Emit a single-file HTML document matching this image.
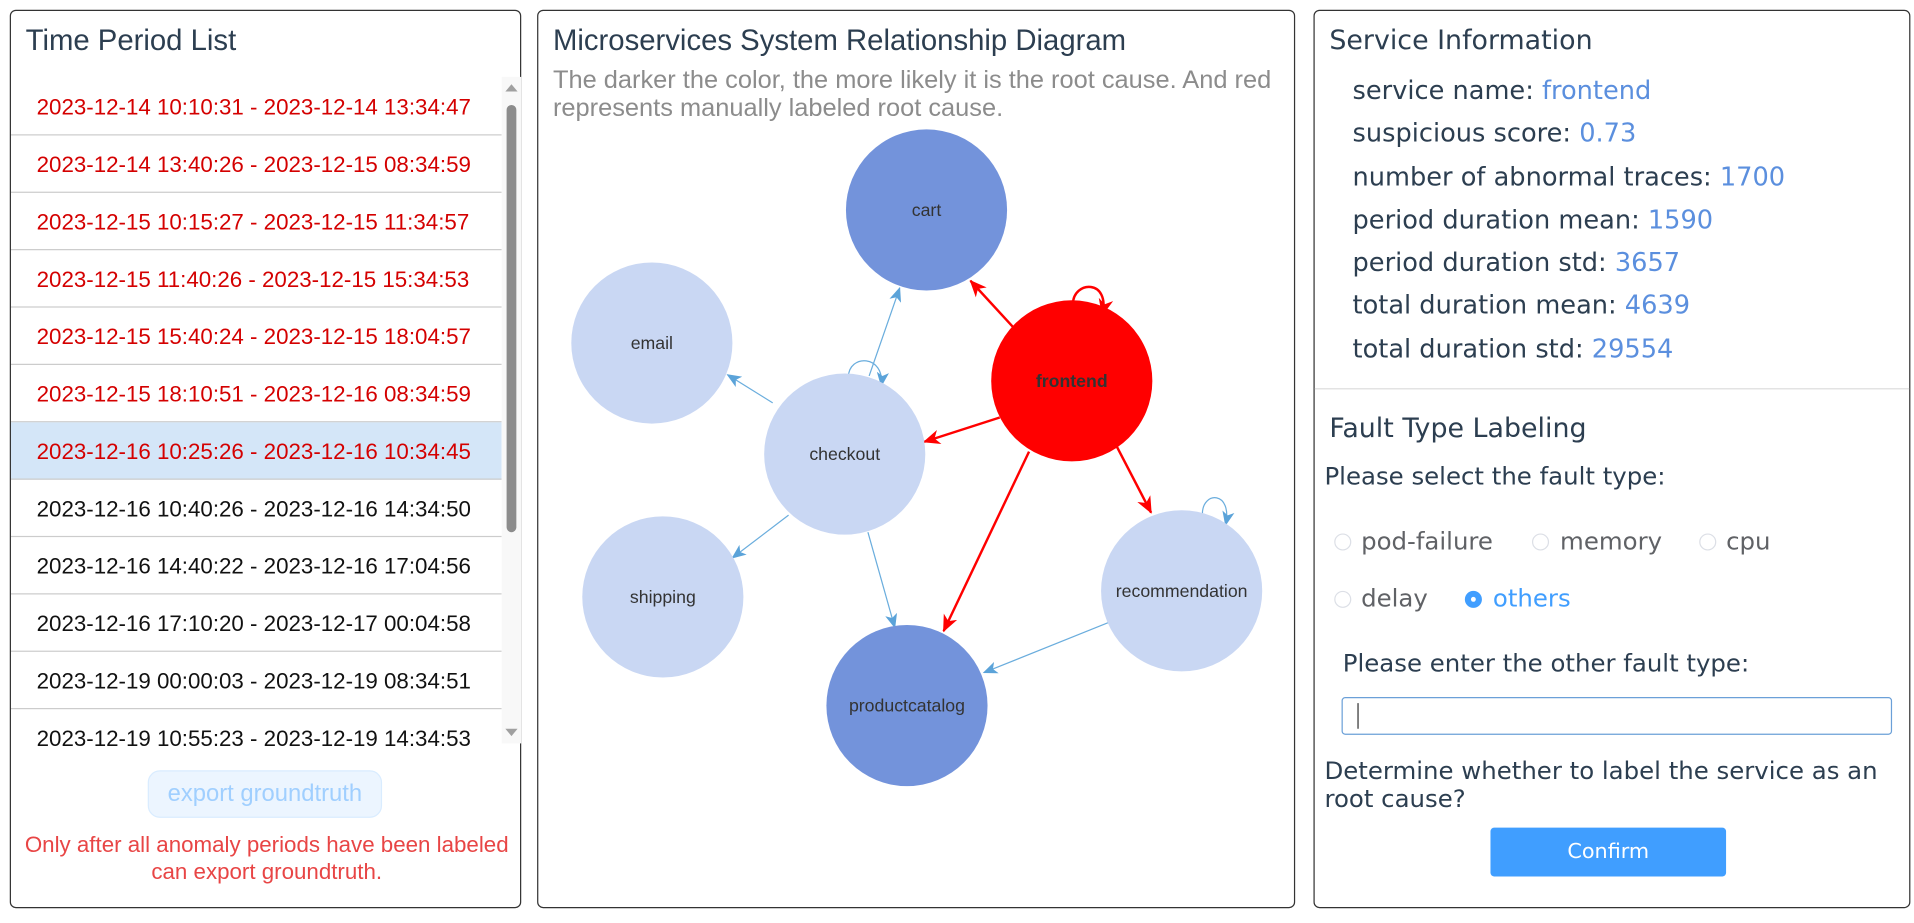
<!DOCTYPE html>
<html><head><meta charset="utf-8"><style>
*{box-sizing:border-box;margin:0;padding:0}
html,body{width:1914px;height:923px;overflow:hidden;background:#fff;font-family:"Liberation Sans",sans-serif}
#w{position:absolute;left:0;top:0;width:1568px;height:756px;transform:scale(1.2207);transform-origin:0 0}
.p{position:absolute;border:1px solid #333;border-radius:5px;background:#fff}
.t{position:absolute;font-size:24px;color:#2c3e50;white-space:nowrap}
.a{position:absolute;white-space:nowrap}
.row{position:absolute;left:0;width:402px;height:47px;border-bottom:1px solid #ccc;font-size:18.3px;line-height:47px;padding-left:21px}
.R{font-family:"DejaVu Sans",sans-serif}
.R .t{font-size:22px}
.lbl{font-size:21px;color:#2c3e50;position:absolute;left:31px;white-space:nowrap}
.lbl span{color:#5b8fde}
.rd{position:absolute;width:14px;height:14px;border:1px solid #dcdfe6;border-radius:50%}
.rt{position:absolute;font-size:20px;color:#606266;white-space:nowrap}
</style></head><body><div id="w">
<div class="p" style="left:8px;top:8px;width:419px;height:736px">
 <div class="t" style="left:12px;top:11px">Time Period List</div>
 <div style="position:absolute;left:0;top:55px;width:402px;height:553px;overflow:hidden">
  <div class="row" style="top:0;color:#d40000">2023-12-14 10:10:31 - 2023-12-14 13:34:47</div>
  <div class="row" style="top:47px;color:#d40000">2023-12-14 13:40:26 - 2023-12-15 08:34:59</div>
  <div class="row" style="top:94px;color:#d40000">2023-12-15 10:15:27 - 2023-12-15 11:34:57</div>
  <div class="row" style="top:141px;color:#d40000">2023-12-15 11:40:26 - 2023-12-15 15:34:53</div>
  <div class="row" style="top:188px;color:#d40000">2023-12-15 15:40:24 - 2023-12-15 18:04:57</div>
  <div class="row" style="top:235px;color:#d40000">2023-12-15 18:10:51 - 2023-12-16 08:34:59</div>
  <div class="row" style="top:282px;color:#d40000;background:#d4e6f8">2023-12-16 10:25:26 - 2023-12-16 10:34:45</div>
  <div class="row" style="top:329px;color:#111">2023-12-16 10:40:26 - 2023-12-16 14:34:50</div>
  <div class="row" style="top:376px;color:#111">2023-12-16 14:40:22 - 2023-12-16 17:04:56</div>
  <div class="row" style="top:423px;color:#111">2023-12-16 17:10:20 - 2023-12-17 00:04:58</div>
  <div class="row" style="top:470px;color:#111">2023-12-19 00:00:03 - 2023-12-19 08:34:51</div>
  <div class="row" style="top:517px;color:#111;border:none">2023-12-19 10:55:23 - 2023-12-19 14:34:53</div>
 </div>
 <div style="position:absolute;left:402px;top:54px;width:16px;height:546px;background:#f8f8f8"></div>
 <div style="position:absolute;left:406px;top:77px;width:8px;height:350px;background:#8c8c8c;border-radius:4px"></div>
 <div style="position:absolute;left:405px;top:60px;border:5px solid transparent;border-bottom:6px solid #a0a0a0;border-top:0"></div>
 <div style="position:absolute;left:405px;top:588px;border:5px solid transparent;border-top:6px solid #a0a0a0;border-bottom:0"></div>
 <div class="a" style="left:112px;top:622px;width:192px;height:39px;background:#ecf5ff;border:1px solid #d9ecff;border-radius:10px;color:#a0cfff;font-size:19.5px;text-align:center;line-height:37px">export groundtruth</div>
 <div class="a" style="left:0;width:419px;top:672px;text-align:center;color:#e84545;font-size:18.3px;line-height:22px">Only after all anomaly periods have been labeled<br>can export groundtruth.</div>
</div>
<div class="p" style="left:440px;top:8px;width:621px;height:736px">
 <div class="t" style="left:12px;top:11px">Microservices System Relationship Diagram</div>
 <div class="a" style="left:12px;top:45px;color:#8c8c8c;font-size:20.8px;line-height:23px">The darker the color, the more likely it is the root cause. And red<br>represents manually labeled root cause.</div>
</div>
<svg style="position:absolute;left:0;top:0" width="1568" height="756">
<defs>
<marker id="r" markerUnits="userSpaceOnUse" markerWidth="14" markerHeight="12" refX="13" refY="6" orient="auto"><path d="M0,0L14,6L0,12L4,6z" fill="#f00"/></marker>
<marker id="b" markerUnits="userSpaceOnUse" markerWidth="12" markerHeight="10" refX="11" refY="5" orient="auto"><path d="M0,0L12,5L0,10L3,5z" fill="#5ba3d9"/></marker>
</defs>
<g fill="none" stroke="#6aaddd" stroke-width="1">
<line x1="712" y1="308" x2="737" y2="236" marker-end="url(#b)"/>
<line x1="633" y1="330" x2="596" y2="307" marker-end="url(#b)"/>
<line x1="646" y1="422" x2="600" y2="457" marker-end="url(#b)"/>
<line x1="711" y1="436" x2="733" y2="514" marker-end="url(#b)"/>
<line x1="908" y1="510" x2="806" y2="551" marker-end="url(#b)"/>
<path d="M695,309 C695,290 725,290 722,316" marker-end="url(#b)"/>
<path d="M985,421 C985,402 1010,402 1004,430" marker-end="url(#b)"/>
</g>
<g fill="none" stroke="#f00" stroke-width="2">
<line x1="830" y1="268" x2="795" y2="230" marker-end="url(#r)"/>
<line x1="819" y1="342" x2="757" y2="362" marker-end="url(#r)"/>
<line x1="843" y1="370" x2="773" y2="517" marker-end="url(#r)"/>
<line x1="915" y1="366" x2="943" y2="420" marker-end="url(#r)"/>
<path d="M879,249 C879,230 910,228 903,258" marker-end="url(#r)"/>
</g>
<g font-family="Liberation Sans,sans-serif" font-size="14.5" fill="#333" text-anchor="middle">
<circle cx="759" cy="172" r="66" fill="#7393db"/><text x="759" y="177">cart</text>
<circle cx="534" cy="281" r="66" fill="#c9d7f3"/><text x="534" y="286">email</text>
<circle cx="692" cy="372" r="66" fill="#c9d7f3"/><text x="692" y="377">checkout</text>
<circle cx="878" cy="312" r="66" fill="#f00"/><text x="878" y="317" font-weight="bold">frontend</text>
<circle cx="543" cy="489" r="66" fill="#c9d7f3"/><text x="543" y="494">shipping</text>
<circle cx="743" cy="578" r="66" fill="#7393db"/><text x="743" y="583">productcatalog</text>
<circle cx="968" cy="484" r="66" fill="#c9d7f3"/><text x="968" y="489">recommendation</text>
</g>
</svg>
<div class="p R" style="left:1076px;top:8px;width:489px;height:736px">
 <div class="t" style="left:12px;top:12px">Service Information</div>
 <div class="lbl" style="top:53px">service name: <span>frontend</span></div>
 <div class="lbl" style="top:88px">suspicious score: <span>0.73</span></div>
 <div class="lbl" style="top:124px">number of abnormal traces: <span>1700</span></div>
 <div class="lbl" style="top:159px">period duration mean: <span>1590</span></div>
 <div class="lbl" style="top:194px">period duration std: <span>3657</span></div>
 <div class="lbl" style="top:229px">total duration mean: <span>4639</span></div>
 <div class="lbl" style="top:265px">total duration std: <span>29554</span></div>
 <div style="position:absolute;left:0;top:309px;width:487px;border-top:1px solid #ddd"></div>
 <div class="t" style="left:12px;top:330px">Fault Type Labeling</div>
 <div class="a" style="left:8px;top:369px;font-size:20px;color:#2c3e50">Please select the fault type:</div>
 <div class="rd" style="left:16px;top:428px"></div><div class="rt" style="left:38px;top:422px">pod-failure</div>
 <div class="rd" style="left:178px;top:428px"></div><div class="rt" style="left:201px;top:422px">memory</div>
 <div class="rd" style="left:315px;top:428px"></div><div class="rt" style="left:337px;top:422px">cpu</div>
 <div class="rd" style="left:16px;top:475px"></div><div class="rt" style="left:38px;top:469px">delay</div>
 <div class="rd" style="left:123px;top:475px;background:#409eff;border-color:#409eff"><div style="position:absolute;left:4px;top:4px;width:4px;height:4px;background:#fff;border-radius:50%"></div></div><div class="rt" style="left:146px;top:469px;color:#409eff">others</div>
 <div class="a" style="left:23px;top:522px;font-size:20px;color:#2c3e50">Please enter the other fault type:</div>
 <div class="a" style="left:22px;top:562px;width:451px;height:31px;border:1px solid #6ba0d8;border-radius:3px"><div style="position:absolute;left:12px;top:4px;width:1px;height:21px;background:#333"></div></div>
 <div class="a" style="left:8px;top:611px;font-size:20px;color:#2c3e50;line-height:23px">Determine whether to label the service as an<br>root cause?</div>
 <div class="a" style="left:144px;top:669px;width:193px;height:40px;background:#409eff;border-radius:3px;color:#fff;font-size:17px;text-align:center;line-height:40px">Confirm</div>
</div>
</div></body></html>
